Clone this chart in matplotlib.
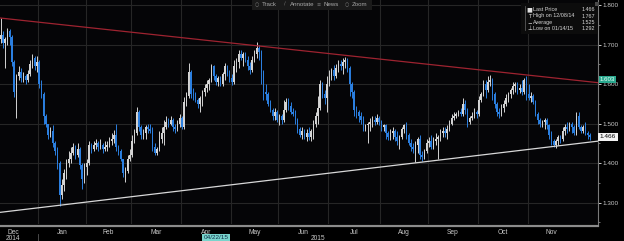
import matplotlib
matplotlib.use('Agg')
import matplotlib.pyplot as plt
import matplotlib.transforms as mtransforms
from matplotlib.patches import Rectangle
from matplotlib.lines import Line2D
from matplotlib.ticker import MultipleLocator, FormatStrFormatter
import numpy as np
import pandas as pd

# daily bars, 2014-12-08 .. 2015-12-09 (one row per month)
closes = [
    1.725, 1.705, 1.715, 1.735, 1.72, 1.655, 1.58, 1.62, 1.63, 1.615, 1.62, 1.61, 1.625, 1.65, 1.665, 1.645, 1.655,
    1.60, 1.575, 1.52, 1.50, 1.47, 1.48, 1.45, 1.43, 1.40, 1.32, 1.345, 1.375, 1.40, 1.41, 1.425, 1.44, 1.42, 1.435, 1.395, 1.36, 1.39,
    1.40, 1.445, 1.435, 1.445, 1.45, 1.44, 1.445, 1.435, 1.44, 1.445, 1.455, 1.46, 1.47, 1.44, 1.43, 1.41, 1.375, 1.38, 1.41, 1.42,
    1.455, 1.475, 1.53, 1.49, 1.47, 1.475, 1.49, 1.485, 1.48, 1.44, 1.425, 1.435, 1.46, 1.475, 1.49, 1.505, 1.50, 1.51, 1.49, 1.485, 1.50, 1.515,
    1.49, 1.555, 1.57, 1.63, 1.575, 1.57, 1.56, 1.55, 1.565, 1.58, 1.59, 1.60, 1.61, 1.645, 1.62, 1.605, 1.615, 1.60, 1.625, 1.645, 1.625, 1.615,
    1.605, 1.645, 1.655, 1.675, 1.665, 1.675, 1.66, 1.645, 1.635, 1.66, 1.675, 1.69, 1.68, 1.63, 1.58, 1.575, 1.55, 1.535, 1.52, 1.53, 1.51,
    1.52, 1.51, 1.535, 1.555, 1.545, 1.53, 1.525, 1.51, 1.485, 1.47, 1.48, 1.465, 1.475, 1.465, 1.48, 1.50, 1.52, 1.54, 1.60, 1.575, 1.565, 1.60,
    1.62, 1.635, 1.62, 1.64, 1.65, 1.645, 1.655, 1.66, 1.64, 1.60, 1.58, 1.535, 1.53, 1.52, 1.51, 1.485, 1.495, 1.50, 1.505, 1.51, 1.505, 1.515, 1.505,
    1.49, 1.495, 1.475, 1.465, 1.475, 1.48, 1.465, 1.455, 1.465, 1.485, 1.495, 1.47, 1.45, 1.44, 1.435, 1.445, 1.46, 1.42, 1.415, 1.43, 1.45,
    1.455, 1.44, 1.455, 1.46, 1.465, 1.475, 1.48, 1.475, 1.485, 1.50, 1.515, 1.52, 1.525, 1.53, 1.525, 1.55, 1.535, 1.505, 1.515, 1.52, 1.53, 1.525,
    1.56, 1.575, 1.60, 1.585, 1.605, 1.61, 1.575, 1.55, 1.53, 1.525, 1.54, 1.55, 1.565, 1.575, 1.585, 1.595, 1.60, 1.585, 1.59, 1.58, 1.61, 1.575,
    1.565, 1.57, 1.555, 1.525, 1.51, 1.50, 1.505, 1.51, 1.495, 1.47, 1.455, 1.445, 1.455, 1.465, 1.46, 1.48, 1.49, 1.485, 1.50, 1.49, 1.475,
    1.52, 1.49, 1.48, 1.49, 1.475, 1.47, 1.466,
]
highs = [
    1.767, 1.735, 1.72, 1.742, 1.74, 1.725, 1.66, 1.625, 1.645, 1.64, 1.63, 1.625, 1.635, 1.66, 1.675, 1.67, 1.67,
    1.66, 1.61, 1.58, 1.525, 1.50, 1.49, 1.495, 1.455, 1.44, 1.405, 1.36, 1.385, 1.41, 1.43, 1.44, 1.45, 1.445, 1.45, 1.44, 1.40, 1.40,
    1.41, 1.455, 1.45, 1.455, 1.46, 1.455, 1.46, 1.45, 1.455, 1.455, 1.465, 1.475, 1.484, 1.50, 1.445, 1.435, 1.41, 1.39, 1.42, 1.435,
    1.47, 1.485, 1.542, 1.535, 1.495, 1.485, 1.495, 1.50, 1.50, 1.49, 1.45, 1.44, 1.48, 1.49, 1.51, 1.52, 1.515, 1.52, 1.515, 1.50, 1.51, 1.525,
    1.52, 1.567, 1.58, 1.653, 1.635, 1.59, 1.58, 1.565, 1.57, 1.585, 1.60, 1.61, 1.615, 1.65, 1.648, 1.625, 1.62, 1.62, 1.63, 1.653, 1.648, 1.635,
    1.625, 1.66, 1.665, 1.685, 1.685, 1.68, 1.68, 1.67, 1.655, 1.67, 1.685, 1.707, 1.70, 1.685, 1.635, 1.60, 1.58, 1.56, 1.54, 1.54, 1.535,
    1.525, 1.525, 1.56, 1.565, 1.565, 1.555, 1.54, 1.535, 1.515, 1.49, 1.49, 1.485, 1.485, 1.49, 1.485, 1.51, 1.53, 1.57, 1.61, 1.605, 1.585, 1.62,
    1.635, 1.64, 1.648, 1.65, 1.66, 1.66, 1.665, 1.668, 1.665, 1.645, 1.605, 1.585, 1.545, 1.535, 1.53, 1.52, 1.50, 1.505, 1.515, 1.52, 1.52, 1.525, 1.52,
    1.51, 1.50, 1.50, 1.48, 1.485, 1.49, 1.485, 1.48, 1.47, 1.49, 1.50, 1.505, 1.475, 1.46, 1.45, 1.455, 1.465, 1.47, 1.43, 1.435, 1.46,
    1.465, 1.47, 1.465, 1.475, 1.47, 1.485, 1.49, 1.49, 1.495, 1.51, 1.525, 1.53, 1.53, 1.535, 1.54, 1.565, 1.56, 1.54, 1.52, 1.53, 1.54, 1.535,
    1.57, 1.58, 1.61, 1.61, 1.62, 1.623, 1.615, 1.58, 1.555, 1.54, 1.55, 1.56, 1.575, 1.58, 1.59, 1.605, 1.605, 1.605, 1.60, 1.61, 1.615, 1.62,
    1.60, 1.58, 1.575, 1.56, 1.53, 1.515, 1.51, 1.515, 1.515, 1.50, 1.48, 1.46, 1.46, 1.47, 1.47, 1.49, 1.50, 1.505, 1.505, 1.505, 1.495,
    1.53, 1.528, 1.495, 1.495, 1.505, 1.48, 1.475,
]
lows = [
    1.705, 1.69, 1.64, 1.70, 1.70, 1.645, 1.567, 1.515, 1.61, 1.605, 1.605, 1.60, 1.605, 1.62, 1.64, 1.635, 1.63,
    1.59, 1.565, 1.50, 1.49, 1.46, 1.465, 1.44, 1.42, 1.385, 1.292, 1.31, 1.33, 1.36, 1.39, 1.40, 1.42, 1.41, 1.415, 1.385, 1.335, 1.35,
    1.37, 1.395, 1.425, 1.43, 1.435, 1.43, 1.435, 1.425, 1.43, 1.43, 1.44, 1.445, 1.45, 1.43, 1.42, 1.405, 1.365, 1.352, 1.375, 1.405,
    1.415, 1.45, 1.47, 1.48, 1.46, 1.46, 1.46, 1.475, 1.475, 1.43, 1.42, 1.42, 1.43, 1.45, 1.445, 1.485, 1.49, 1.495, 1.48, 1.475, 1.48, 1.49,
    1.485, 1.485, 1.545, 1.565, 1.565, 1.56, 1.555, 1.54, 1.53, 1.545, 1.57, 1.58, 1.585, 1.605, 1.61, 1.597, 1.595, 1.595, 1.595, 1.61, 1.62, 1.605,
    1.597, 1.60, 1.63, 1.64, 1.66, 1.645, 1.655, 1.635, 1.625, 1.63, 1.655, 1.665, 1.66, 1.60, 1.56, 1.56, 1.545, 1.53, 1.51, 1.51, 1.505,
    1.495, 1.50, 1.505, 1.53, 1.535, 1.525, 1.52, 1.50, 1.475, 1.465, 1.46, 1.46, 1.455, 1.458, 1.455, 1.46, 1.49, 1.50, 1.535, 1.565, 1.55, 1.53,
    1.595, 1.61, 1.61, 1.615, 1.63, 1.635, 1.625, 1.64, 1.63, 1.57, 1.565, 1.52, 1.515, 1.505, 1.50, 1.48, 1.48, 1.45, 1.48, 1.49, 1.495, 1.50, 1.495,
    1.48, 1.48, 1.46, 1.458, 1.458, 1.46, 1.455, 1.445, 1.435, 1.46, 1.475, 1.46, 1.445, 1.43, 1.425, 1.403, 1.425, 1.41, 1.405, 1.41, 1.425,
    1.44, 1.435, 1.435, 1.445, 1.41, 1.455, 1.465, 1.465, 1.46, 1.48, 1.495, 1.51, 1.515, 1.52, 1.52, 1.52, 1.525, 1.49, 1.50, 1.51, 1.515, 1.515,
    1.52, 1.555, 1.57, 1.565, 1.58, 1.595, 1.56, 1.54, 1.52, 1.515, 1.52, 1.53, 1.545, 1.555, 1.565, 1.575, 1.58, 1.575, 1.578, 1.572, 1.575, 1.56,
    1.56, 1.555, 1.55, 1.52, 1.50, 1.49, 1.49, 1.485, 1.485, 1.46, 1.445, 1.44, 1.438, 1.445, 1.45, 1.455, 1.47, 1.475, 1.48, 1.475, 1.47,
    1.47, 1.485, 1.475, 1.475, 1.47, 1.46, 1.458,
]
first_open = 1.715

start_date = '2014-12-08'
end_date = '2015-12-09'
holidays = ['2014-12-25', '2015-01-01']

# trendline anchors (bar index, price)
resistance = [(0, 1.767), (232, 1.623)]
support = [(26, 1.293), (244, 1.442)]

legend_rows = [('Last Price', '1.466'), ('High on 12/08/14', '1.767'),
               ('Average', '1.525'), ('Low on 01/14/15', '1.292')]
legend_icons = ['\u25a0', 'T', '\u2212', '\u22a5']
toolbar = ['Track', 'Annotate', 'News', 'Zoom']
last_price = 1.466
trend_tag = '1.603'
cursor_date = '04/22/15'

W, H = 624, 241
BG = '#000000'
GRID = '#262626'
UP = '#d4d4d4'
DOWN = '#2b7fe0'
TXT = '#c8c8c8'
FONT = ['Liberation Sans Narrow', 'Liberation Sans', 'DejaVu Sans']
plt.rcParams['font.family'] = FONT

dates = pd.bdate_range(start_date, end_date)
dates = dates[~dates.isin(pd.to_datetime(holidays))]
n = len(closes)
idx = np.arange(n)
c = np.array(closes)
o = np.array([first_open] + closes[:-1])
hi = np.array(highs)
lo = np.array(lows)
up = c >= o
cols = np.where(up, UP, DOWN)

# calendar for month label placement (Dec 2014 starts before the data)
cal = pd.bdate_range('2014-12-01', '2015-11-30')
cal = cal[~cal.isin(pd.to_datetime(holidays))]
cal_pos = np.arange(len(cal)) - int((cal < pd.Timestamp(start_date)).sum())
months = pd.Series(cal_pos, index=cal).groupby([cal.year, cal.month])
month_mid = months.mean()
month_first = months.min()

fig = plt.figure(figsize=(W / 100, H / 100), dpi=100, facecolor=BG)
ax = fig.add_axes([0, 17 / H, 598 / W, 224 / H])
ax.set_facecolor('#050507')

x0, x1 = -0.26, 263.6
y0, y1 = 1.2456, 1.8127
ax.set_xlim(x0, x1)
ax.set_ylim(y0, y1)

for v in np.arange(1.3, 1.81, 0.1):
    ax.axhline(v, color=GRID, lw=0.8, zorder=0)
for v in month_first.values[1:]:
    ax.axvline(v - 0.5, color=GRID, lw=0.8, zorder=0)

# candles
ax.vlines(idx, lo, hi, colors=cols, lw=0.7, zorder=2)
ax.bar(idx, np.maximum(np.abs(c - o), 0.003), bottom=np.minimum(o, c),
       width=0.62, color=cols, linewidth=0, zorder=3)

# trendlines
xs = np.array([x0, x1])
for pts, col in [(resistance, '#9e2330'), (support, '#d8d8d8')]:
    (a, pa), (b, pb) = pts
    k = (pb - pa) / (b - a)
    ax.plot(xs, pa + k * (xs - a), color=col, lw=0.9, zorder=4)

# right axis
for s in ['top', 'left', 'bottom']:
    ax.spines[s].set_visible(False)
ax.spines['right'].set_color('#7a7a7a')
ax.spines['right'].set_linewidth(0.8)
ax.set_xticks([])
ax.yaxis.tick_right()
ax.yaxis.set_major_locator(MultipleLocator(0.1))
ax.yaxis.set_minor_locator(MultipleLocator(0.05))
ax.yaxis.set_major_formatter(FormatStrFormatter('%.3f'))
ax.tick_params(axis='y', which='major', length=2.2, width=0.7, colors=TXT,
               labelsize=4.6, pad=1.2, direction='out')
ax.tick_params(axis='y', which='minor', length=1.4, width=0.6, colors='#8a8a8a')

ytr = ax.get_yaxis_transform()
ax.text(1.003, last_price, '1.466', transform=ytr, fontsize=4.6, color='#000000',
        va='center', ha='left', zorder=10,
        bbox=dict(boxstyle='square,pad=0.25', fc='#f2f2f2', ec='none'))
# trend tag sits just above the 1.600 label
ax.text(1.003, 1.612, trend_tag, transform=ytr, fontsize=4.4, color='#eafff8',
        va='center', ha='left', zorder=10,
        bbox=dict(boxstyle='square,pad=0.2', fc='#2aa88e', ec='none'))


def fx(px):
    return px / W


def fy(py):
    return 1 - py / H


# x labels
xtr = mtransforms.blended_transform_factory(ax.transData, fig.transFigure)
for (yr, mo), pos in month_mid.items():
    ax.text(pos, fy(232), pd.Timestamp(yr, mo, 1).strftime('%b'), transform=xtr,
            fontsize=4.8, color=TXT, ha='center', va='center')
ax.text(month_mid.iloc[0], fy(238.5), '2014', transform=xtr,
        fontsize=4.8, color=TXT, ha='center', va='center')
ax.text((month_first.values[1] - 0.5 + x1) / 2, fy(238.5), '2015', transform=xtr,
        fontsize=4.8, color=TXT, ha='center', va='center')
fig.add_artist(Line2D([fx(38), fx(38)], [fy(234), fy(241)], color='#555555', lw=0.6))

cur_i = int(np.where(dates == pd.Timestamp('2015-04-22'))[0][0])
ax.text(cur_i, fy(237.5), cursor_date, transform=xtr, fontsize=4.6, color='#10304a',
        ha='center', va='center',
        bbox=dict(boxstyle='square,pad=0.2', fc='#79d4cc', ec='none'))

# scroll bar
fig.add_artist(Line2D([0, fx(598)], [fy(226), fy(226)], color='#8c8c8c', lw=1.6))

# toolbar
fig.add_artist(Rectangle((fx(252), fy(9.5)), fx(120), 9.5 / H, transform=fig.transFigure,
                         fc='#1a1a1a', ec='none'))
for label, px, ic in zip(toolbar, [262, 290, 324, 352], ['\u25cb', '\u2215', '\u2261', '\u25cb']):
    fig.text(fx(px - 5), fy(4.5), ic, fontsize=3.6, color='#7a7a7a', ha='center', va='center',
             family=['DejaVu Sans'])
    fig.text(fx(px), fy(4.5), label, fontsize=4.4, color='#a8a8a8', ha='left', va='center')

# legend box
fig.add_artist(Rectangle((fx(521), fy(34.5)), fx(77), 31 / H, transform=fig.transFigure,
                         fc='#0c0c0c', ec='none'))
fig.add_artist(Rectangle((fx(594.5), fy(6)), fx(4), 4 / H, transform=fig.transFigure,
                         fc='#4a4a4a', ec='none'))
fig.add_artist(Line2D([fx(525), fx(525)], [fy(6), fy(30)], color='#6a6a6a', lw=0.5))
for k, ((label, val), ic) in enumerate(zip(legend_rows, legend_icons)):
    yy = fy(9.5 + 6.5 * k)
    fig.text(fx(529.5), yy, ic, fontsize=4.4 if k == 0 else 4.0, color='#e0e0e0',
             ha='center', va='center', family=['DejaVu Sans'])
    fig.text(fx(533), yy, label, fontsize=3.9, color='#d8d8d8', ha='left', va='center')
    fig.text(fx(595), yy, val, fontsize=3.9, color='#d8d8d8', ha='right', va='center')

fig.savefig('out.png', dpi=100, facecolor=BG)
